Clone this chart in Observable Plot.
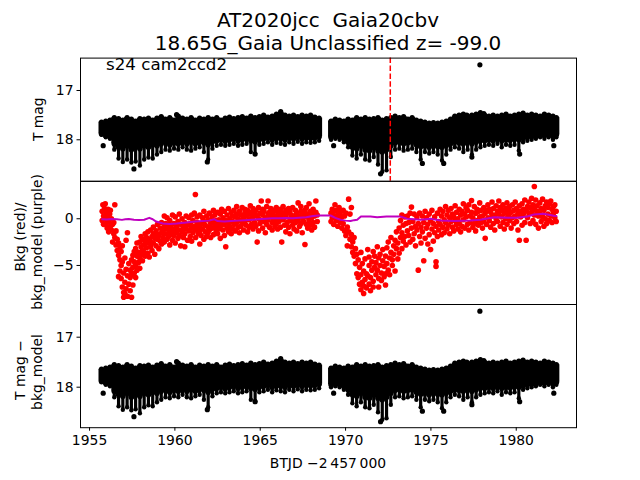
<!DOCTYPE html>
<html><head><meta charset="utf-8">
<script src="https://cdn.jsdelivr.net/npm/d3@7"></script>
<script src="https://cdn.jsdelivr.net/npm/@observablehq/plot@0.6"></script>
<style>
html,body{margin:0;padding:0;background:#fff;}
#chart{position:relative;width:640px;height:480px;overflow:hidden;font-family:"DejaVu Sans",sans-serif;}
#chart svg{position:absolute;left:0;top:0;}
</style></head><body><div id="chart"></div><script>
// ---- data ----
const titleLines = ["AT2020jcc  Gaia20cbv", "18.65G_Gaia Unclassified z= -99.0"];
const sectorLabel = "s24 cam2ccd2";
const xTicks = [1955, 1960, 1965, 1970, 1975, 1980];
const magTicks = [17, 18];
const bkgTicks = [0, -5];
const discoveryDay = [1972.62];

// T mag per time bin: [day, bright edge, edge of dense core, faintest point]
const tmagBand1 = [
[1955.70,17.64,17.88,17.90],[1955.95,17.62,17.92,17.95],[1956.20,17.60,17.95,17.98],[1956.45,17.55,18.08,18.20],[1956.70,17.57,18.15,18.38],[1956.95,17.60,18.18,18.45],[1957.20,17.55,18.12,18.40],[1957.45,17.58,18.20,18.46],[1957.70,17.62,18.15,18.44],[1957.95,17.57,18.18,18.52],[1958.20,17.58,18.12,18.40],[1958.45,17.56,18.15,18.36],[1958.70,17.60,18.10,18.38],[1958.95,17.56,18.12,18.30],[1959.20,17.53,18.08,18.25],[1959.45,17.58,18.05,18.20],[1959.70,17.55,18.10,18.22],[1959.95,17.60,18.06,18.18],[1960.20,17.52,18.08,18.20],[1960.45,17.56,18.04,18.15],[1960.70,17.58,18.08,18.20],[1960.95,17.55,18.05,18.22],[1961.20,17.60,18.08,18.18],[1961.45,17.56,18.04,18.15],[1961.70,17.58,18.06,18.25],[1961.95,17.55,18.10,18.40],[1962.20,17.58,18.04,18.18],[1962.45,17.55,18.02,18.12],[1962.70,17.60,18.00,18.10],[1962.95,17.56,18.03,18.12],[1963.20,17.54,18.00,18.10],[1963.45,17.57,17.98,18.08],[1963.70,17.55,18.02,18.12],[1963.95,17.53,18.00,18.10],[1964.20,17.56,17.98,18.08],[1964.45,17.52,18.02,18.25],[1964.70,17.55,18.04,18.28],[1964.95,17.53,18.00,18.10],[1965.20,17.50,17.98,18.08],[1965.45,17.54,17.96,18.05],[1965.70,17.52,18.00,18.10],[1965.95,17.48,17.97,18.06],[1966.20,17.45,17.98,18.08],[1966.45,17.50,18.00,18.10],[1966.70,17.52,17.96,18.05],[1966.95,17.50,17.98,18.08],[1967.20,17.53,17.95,18.04],[1967.45,17.50,17.98,18.08],[1967.70,17.52,17.96,18.05],[1967.95,17.50,17.97,18.06],[1968.20,17.54,17.96,18.05],[1968.45,17.56,17.94,18.02]
];
const tmagBand2 = [
[1969.15,17.62,17.95,18.00],[1969.40,17.58,17.93,17.98],[1969.65,17.60,17.95,18.00],[1969.90,17.62,17.98,18.05],[1970.15,17.58,18.05,18.15],[1970.40,17.60,18.15,18.32],[1970.65,17.55,18.18,18.38],[1970.90,17.58,18.12,18.30],[1971.15,17.55,18.20,18.40],[1971.40,17.58,18.22,18.42],[1971.65,17.57,18.15,18.35],[1971.90,17.55,18.22,18.50],[1972.15,17.60,18.25,18.65],[1972.40,17.57,18.20,18.62],[1972.65,17.55,18.12,18.35],[1972.90,17.52,18.06,18.20],[1973.15,17.55,18.05,18.18],[1973.40,17.53,18.08,18.22],[1973.65,17.58,18.06,18.20],[1973.90,17.55,18.05,18.18],[1974.15,17.60,18.10,18.25],[1974.40,17.62,18.14,18.40],[1974.65,17.64,18.12,18.25],[1974.90,17.66,18.15,18.28],[1975.15,17.65,18.12,18.25],[1975.40,17.66,18.14,18.30],[1975.65,17.64,18.15,18.42],[1975.90,17.62,18.12,18.30],[1976.15,17.58,18.08,18.20],[1976.40,17.52,18.05,18.15],[1976.65,17.50,18.06,18.18],[1976.90,17.48,18.08,18.25],[1977.15,17.52,18.05,18.20],[1977.40,17.50,18.08,18.30],[1977.65,17.48,18.05,18.20],[1977.90,17.45,18.02,18.15],[1978.15,17.50,18.02,18.12],[1978.40,17.52,18.00,18.10],[1978.65,17.50,18.02,18.12],[1978.90,17.52,17.98,18.08],[1979.15,17.50,18.02,18.15],[1979.40,17.48,18.00,18.10],[1979.65,17.52,18.01,18.12],[1979.90,17.50,17.99,18.10],[1980.15,17.48,18.00,18.22],[1980.40,17.46,17.97,18.05],[1980.65,17.50,17.95,18.02],[1980.90,17.48,17.94,18.00],[1981.15,17.50,17.93,17.98],[1981.40,17.52,17.90,17.95],[1981.65,17.48,17.92,17.98],[1981.90,17.50,17.90,17.95],[1982.15,17.52,17.93,18.00],[1982.35,17.55,17.90,17.95]
];
// isolated T mag points: [day, mag]
const tmagOutliers = [[1955.8,18.12],[1957.6,18.59],[1960.1,17.49],[1961.9,18.45],[1964.7,18.29],[1966.2,17.43],[1969.3,18.12],[1972.05,18.69],[1974.5,18.48],[1975.75,18.48],[1977.1,17.5],[1977.4,18.35],[1977.87,16.48],[1978.1,17.47],[1980.2,18.29],[1982.2,18.12]];

// background flux points: [day, value, value, ...]
const bkgSeg1 = [
[1955.74,0.8,-0.2],[1955.78,1.5],[1955.82,0.3,-0.6],[1955.88,1.1],[1955.92,0.0,1.6],[1955.98,-0.5,0.6],[1956.03,0.2,-1.0],[1956.08,1.0],[1956.12,-0.3,-1.4],[1956.18,0.5],[1956.22,-0.8,0.9],[1956.28,0.0,-1.2],[1956.35,-0.6,-2.5],[1956.42,-1.6,-0.4],[1956.48,-2.0,1.5],[1956.55,-1.3,-2.8],[1956.62,-2.2,-3.4],[1956.70,-2.6,-3.9,-6.2],[1956.78,-3.0,-4.4,-5.6],[1956.85,-3.5,-5.0,-6.4],[1956.92,-2.9,-4.6,-7.3],[1957.00,-5.8,-7.9,-8.4],[1957.07,-4.2,-6.8,-8.0],[1957.14,-2.3,-5.4,-7.5],[1957.22,-1.5,-6.1,-8.3],[1957.30,-4.8,-7.0],[1957.38,-5.5,-7.7,-6.3],[1957.46,-4.4,-8.4,-6.0],[1957.54,-3.9,-5.2,-7.1],[1957.62,-4.6,-5.8,-3.5],[1957.70,-3.2,-5.0,-6.3],[1957.78,-4.0,-2.6,-5.5],[1957.86,-3.6,-4.7],[1957.94,-2.5,-4.2,-5.3],[1958.02,-3.0,-3.9,-1.9],[1958.10,-2.2,-4.5,-3.4],[1958.18,-2.8,-3.6],[1958.26,-1.6,-4.0,-2.4],[1958.34,-3.1,-2.0],[1958.42,-1.4,-3.7,-2.6],[1958.50,-2.2,-4.1],[1958.58,-1.2,-3.0,-2.5],[1958.66,-1.9,-3.4],[1958.74,-0.9,-2.6,-1.6],[1958.82,-2.1,-3.8],[1958.90,-1.3,-2.9],[1958.98,-0.6,-2.2,-1.7],[1959.06,-1.8,-3.2],[1959.14,-1.0,-2.4],[1959.22,-0.4,-1.5,-2.7],[1959.30,-1.2,-2.0],[1959.38,0.3,-0.9,-2.5],[1959.46,-1.6,-0.5],[1959.54,-1.1,-2.2,0.1],[1959.62,-0.7,-1.9],[1959.70,-1.4,-0.2,-2.8],[1959.78,-0.9,-1.7],[1959.86,0.4,-1.3,-2.3],[1959.94,-0.5,-1.8],[1960.02,-1.1,0.2,-2.6],[1960.10,-0.8,-1.5],[1960.18,-0.3,-2.1],[1960.26,-1.2,0.5,-1.8],[1960.34,-0.6,-2.9],[1960.42,-1.4,0.0],[1960.50,-0.9,-2.0],[1960.58,-0.4,-1.6,-3.0],[1960.66,0.3,-1.1],[1960.74,-0.7,-2.3],[1960.82,-1.3,0.1],[1960.90,-0.5,-1.9],[1960.98,-1.0,0.4,-2.4],[1961.06,-0.2,-1.5],[1961.14,-0.8,0.6],[1961.20,2.6],[1961.22,-1.2,-2.0],[1961.30,-0.4,0.2],[1961.38,-1.6,-0.9],[1961.46,0.4,-1.3,-2.7],[1961.54,-0.6,-1.8],[1961.62,0.1,-1.1],[1961.70,-0.3,-2.2,0.8],[1961.78,-1.4,-0.7],[1961.86,0.3,-1.9],[1961.94,-0.9,-0.1,-1.5],[1962.02,0.6,-1.2],[1962.10,-0.5,-2.0],[1962.18,0.2,-1.0],[1962.26,-0.3,-1.7,0.9],[1962.34,-0.8,0.4],[1962.42,-1.3,-0.2],[1962.50,0.7,-1.6,-0.6],[1962.58,-0.1,-1.1],[1962.66,0.5,-0.8,-2.1],[1962.74,-0.4,1.0],[1962.82,-1.2,0.1],[1962.90,-0.6,0.8,-1.8],[1962.98,-3.0,-0.2],[1963.06,0.4,-1.0],[1963.14,-0.5,1.1,-1.4],[1963.22,0.0,-0.9],[1963.30,0.7,-1.6],[1963.38,-0.3,0.3,-1.1],[1963.46,0.9,-0.6],[1963.54,-1.3,0.2],[1963.62,0.5,-0.4,1.3],[1963.70,-0.9,0.0],[1963.78,0.8,-1.5],[1963.86,-0.2,0.4,-0.8],[1963.94,1.2,-0.5],[1964.02,0.1,-1.2],[1964.10,0.6,-0.3,1.0],[1964.18,-0.7,0.3],[1964.26,0.9,-1.4],[1964.34,-0.1,0.5,-0.9],[1964.42,1.4,0.0],[1964.50,-0.6,0.7],[1964.58,0.2,-1.1,1.1],[1964.66,-0.4,0.6],[1964.74,0.9,-0.8],[1964.82,-2.5,0.3],[1964.90,0.0,1.2,-1.3],[1964.98,0.6,-0.5],[1965.06,1.9,-0.2],[1965.14,0.4,-1.0,1.0],[1965.22,-0.3,0.8],[1965.30,0.1,-1.5],[1965.38,1.3,-0.6],[1965.46,0.5,-0.1,1.9],[1965.54,-0.9,0.7],[1965.62,0.2,1.1],[1965.70,-0.4,0.6,-1.2],[1965.78,0.9,-0.2],[1965.86,0.3,-0.8],[1965.94,1.2,-0.5,0.0],[1966.02,-1.1,0.7],[1966.10,0.4,-0.3],[1966.18,1.0,-0.9,0.2],[1966.26,-2.5,0.6],[1966.34,-0.1,1.3],[1966.42,0.5,-0.7],[1966.50,-1.4,0.2,0.9],[1966.58,-0.4,0.6],[1966.66,1.1,-0.9],[1966.74,0.0,0.8,-1.6],[1966.82,0.4,-0.2],[1966.90,-0.7,1.2],[1966.98,0.3,-1.1],[1967.06,0.9,-0.4,0.1],[1967.14,-1.3,0.6],[1967.22,1.7,-0.2],[1967.30,0.3,-0.8],[1967.38,-0.5,0.8,1.3],[1967.46,0.1,-1.5],[1967.54,0.6,-0.3],[1967.62,-2.75,0.9],[1967.70,-0.6,0.2,1.2],[1967.78,0.5,-1.0],[1967.86,-0.2,1.6],[1967.94,0.8,-0.7],[1968.02,0.1,-1.2,0.5],[1968.10,1.0,-0.4],[1968.18,-0.9,0.3],[1968.26,0.7,1.9],[1968.34,-0.3,0.4]
];
const bkgSeg2 = [
[1969.15,0.6,-0.3],[1969.22,1.0,0.1],[1969.30,-0.6,0.8],[1969.38,1.5,0.3],[1969.46,-0.2,0.9],[1969.54,0.4,-0.8],[1969.62,1.2,0.0],[1969.70,-0.4,0.7],[1969.78,0.2,-1.0],[1969.86,0.9,-0.5],[1969.94,-1.3,0.3],[1970.02,0.6,-1.8],[1970.10,-0.9,-2.9],[1970.18,2.1,-1.4],[1970.26,-2.2,0.5],[1970.34,1.2,-3.0,-1.7],[1970.42,-2.5,-3.6],[1970.50,-4.0,-2.0],[1970.58,-3.2,-4.8],[1970.66,-5.9,-3.8],[1970.74,-4.4,-6.3],[1970.82,-5.2,-7.0],[1970.90,-3.6,-6.0,-7.6],[1970.98,-4.8,-6.8],[1971.06,-5.6,-8.0,-7.2],[1971.14,-4.3,-6.5],[1971.22,-5.9,-7.4],[1971.30,-3.3,-6.1],[1971.38,-5.0,-7.0,-4.1],[1971.46,-6.3,-7.7],[1971.54,-4.6,-5.5],[1971.62,-3.5,-6.7,-7.3],[1971.70,-5.2,-4.0],[1971.78,-6.0,-4.7],[1971.86,-3.0,-5.5],[1971.94,-6.4,-4.2,-7.3],[1972.02,-5.0,-3.8],[1972.10,-5.8,-6.6],[1972.18,-4.5,-3.3],[1972.26,-6.2,-5.1],[1972.34,-4.0,-5.9,-7.1],[1972.42,-3.1,-4.8],[1972.50,-5.5,-2.5],[1972.58,-4.2,-6.0],[1972.66,-2.0,-3.6],[1972.74,-5.0,-4.4],[1972.82,-2.9,-3.8],[1972.90,-5.6,-2.3],[1972.98,-1.4,-3.2],[1973.06,-4.3,-2.6],[1973.14,-1.0,-3.7],[1973.22,-0.2,-2.0],[1973.30,0.4,-1.5,-3.2],[1973.38,-0.7,-2.4],[1973.46,-1.9,0.2],[1973.54,-0.5,-2.8],[1973.62,0.3,-1.3],[1973.70,-1.8,-0.4],[1973.78,-2.5,0.6],[1973.86,1.25,-1.0],[1973.94,-0.3,-2.2],[1974.02,0.5,-1.6],[1974.10,-0.8,-2.9],[1974.18,0.2,-1.2],[1974.26,-5.5,-0.5],[1974.34,-1.9,0.6],[1974.42,-0.9,-2.6],[1974.50,0.3,-1.4],[1974.58,-4.5,-0.4],[1974.66,-2.1,0.8],[1974.74,-1.0,0.1],[1974.82,-2.7,-0.6],[1974.90,0.5,-1.7],[1974.98,-0.2,-3.3],[1975.06,0.9,-1.1],[1975.14,-0.5,-2.4],[1975.22,0.2,-1.5],[1975.30,-5.1,-4.6,-0.8],[1975.38,0.6,-1.9],[1975.46,-0.3,-1.2],[1975.54,1.0,-0.6],[1975.62,-1.7,0.3],[1975.70,0.8,-0.9],[1975.78,-0.1,-1.5],[1975.86,1.3,-0.4],[1975.94,0.4,-1.1],[1976.02,-0.7,0.9],[1976.10,0.1,-1.6],[1976.18,1.1,-0.3],[1976.26,-0.9,0.5],[1976.34,0.2,-1.3],[1976.42,1.4,-0.2],[1976.50,-0.6,0.7],[1976.58,0.0,-1.1],[1976.66,1.0,-0.5],[1976.74,-1.4,0.4],[1976.82,0.8,-0.8],[1976.90,1.6,-0.1],[1976.98,-1.0,0.5],[1977.06,0.2,1.2],[1977.14,-0.6,0.9],[1977.22,1.5,-1.2],[1977.30,0.3,-0.4],[1977.38,1.96,0.7],[1977.46,-0.9,0.1],[1977.54,1.3,-0.5],[1977.62,0.6,-1.3],[1977.70,-0.2,1.0],[1977.78,0.8,-0.7],[1977.86,1.7,0.2],[1977.94,-0.4,0.9],[1978.02,0.3,-1.0],[1978.10,1.2,-0.3],[1978.18,-2.1,0.6],[1978.26,0.9,-0.6],[1978.34,1.5,0.1],[1978.42,-0.2,1.0],[1978.50,0.7,-0.9],[1978.58,1.8,0.3],[1978.66,-0.5,1.1],[1978.74,0.4,-1.2],[1978.82,1.4,0.0],[1978.90,-0.3,0.8],[1978.98,1.9,0.5],[1979.06,-0.8,1.2],[1979.14,0.2,0.9],[1979.22,1.5,-0.4],[1979.30,0.6,-1.1],[1979.38,1.1,0.0],[1979.46,-0.6,1.7],[1979.54,0.4,0.9],[1979.62,1.3,-0.2],[1979.70,-1.0,0.7],[1979.78,0.1,1.5],[1979.86,0.9,-0.5],[1979.94,1.8,0.3],[1980.02,-0.3,1.1],[1980.10,0.6,-1.2],[1980.18,-2.3,1.4],[1980.26,0.2,0.8],[1980.34,1.6,-0.7],[1980.42,0.5,1.0],[1980.50,-0.4,2.0],[1980.58,-2.3,0.9],[1980.66,1.3,0.1],[1980.74,0.6,1.8],[1980.82,-0.5,1.2],[1980.90,0.7,2.2],[1980.98,1.5,-0.2],[1981.06,3.46,0.4,1.0],[1981.14,2.0,-0.6],[1981.22,0.8,1.4],[1981.30,-1.0,0.3],[1981.38,1.7,0.6],[1981.46,-0.3,1.1],[1981.54,2.1,0.2],[1981.62,0.9,-0.8],[1981.70,1.4,0.0],[1981.78,-0.5,1.8],[1981.86,0.5,1.2],[1981.94,1.6,-0.2],[1982.02,0.3,1.9],[1982.10,1.0,-0.4],[1982.18,0.6,1.3],[1982.26,1.5,0.1],[1982.34,-0.3,0.8]
];
// background model (purple line): [day, value]
const bkgModel = [
[1955.74,-0.05],[1956.0,-0.08],[1956.3,-0.02],[1956.6,-0.05],[1956.9,-0.12],[1957.1,-0.05],[1957.3,-0.02],[1957.6,-0.1],[1957.9,-0.12],[1958.2,-0.1],[1958.5,0.1],[1958.7,-0.05],[1958.9,-0.3],[1959.3,-0.5],[1959.7,-0.55],[1960.1,-0.5],[1960.4,-0.45],[1960.8,-0.38],[1961.2,-0.3],[1961.6,-0.25],[1962.0,-0.2],[1962.3,-0.05],[1962.5,-0.25],[1962.9,-0.3],[1963.3,-0.25],[1963.7,-0.2],[1964.1,-0.15],[1964.5,-0.1],[1964.9,-0.05],[1965.3,0.0],[1965.7,0.05],[1966.1,0.05],[1966.5,0.08],[1966.9,0.05],[1967.3,0.1],[1967.7,0.15],[1968.1,0.3],[1968.45,0.35],
[1969.12,0.35],[1969.4,0.1],[1969.7,-0.1],[1970.0,-0.2],[1970.29,-0.25],[1970.5,-0.15],[1970.68,-0.1],[1970.9,0.25],[1971.46,0.25],[1971.85,0.17],[1972.4,0.25],[1973.2,0.25],[1973.6,0.0],[1974.0,-0.05],[1974.4,-0.1],[1974.98,0.0],[1975.56,-0.18],[1976.35,-0.25],[1977.3,-0.18],[1977.9,-0.1],[1978.7,0.17],[1979.5,0.1],[1980.06,0.1],[1980.65,0.25],[1981.04,0.46],[1981.6,0.53],[1982.2,0.32],[1982.35,0.3]
];

// ---- tables ----
const band = [...tmagBand1, ...tmagBand2].map(([t, top, core, bot]) => ({t, top, core, bot}));
const outl = tmagOutliers.map(([t, m]) => ({t, m}));
const bkg = [...bkgSeg1, ...bkgSeg2].flatMap(([t, ...vs]) => vs.map(v => ({t, v})));
const model = bkgModel.map(([t, v]) => ({t, v}));

const xDomain = [1954.47, 1983.53];
const base = {
  width: 640, height: 480, marginLeft: 80, marginRight: 64,
  style: {background: "transparent", fontFamily: "DejaVu Sans", fontSize: "13.9px", overflow: "visible", color: "black"}
};
const yAxisOpts = {tickSize: 3.5, tickPadding: 3.5, tickFormat: "d", label: null};

function magMarks() {
  return [
    Plot.ruleX(band, {x: "t", y1: "core", y2: "bot", stroke: "black", strokeWidth: 3.2}),
    Plot.ruleX(band, {x: "t", y1: "top", y2: "core", stroke: "black", strokeWidth: 6}),
    Plot.dot(band, {x: "t", y: "top", r: 2.6, fill: "black"}),
    Plot.dot(band, {x: "t", y: "core", r: 2.8, fill: "black"}),
    Plot.dot(band, {x: "t", y: "bot", r: 2.2, fill: "black"}),
    Plot.dot(outl, {x: "t", y: "m", r: 2.6, fill: "black"})
  ];
}

const p1 = Plot.plot({
  ...base, marginTop: 57.6, marginBottom: 480 - 180.8,
  x: {domain: xDomain, axis: null},
  y: {domain: [18.842, 16.343], ticks: magTicks, ...yAxisOpts},
  marks: [
    ...magMarks(),
    Plot.ruleX(discoveryDay, {stroke: "#ff0000", strokeWidth: 1.5, strokeDasharray: "5.5,2.4"}),
    Plot.frame({stroke: "black", strokeWidth: 1})
  ]
});
const p2 = Plot.plot({
  ...base, marginTop: 180.8, marginBottom: 480 - 304,
  x: {domain: xDomain, axis: null},
  y: {domain: [-9.18, 4.01], ticks: bkgTicks, ...yAxisOpts},
  marks: [
    Plot.dot(bkg, {x: "t", y: "v", r: 2.8, fill: "#ff0000"}),
    Plot.line(model, {x: "t", y: "v", stroke: "#bf00bf", strokeWidth: 2}),
    Plot.frame({stroke: "black", strokeWidth: 1})
  ]
});
const p3 = Plot.plot({
  ...base, marginTop: 304, marginBottom: 480 - 427.2,
  x: {domain: xDomain, ticks: xTicks, tickFormat: "d", tickSize: 3.5, tickPadding: 3.5, label: null},
  y: {domain: [18.81, 16.346], ticks: magTicks, ...yAxisOpts},
  marks: [
    ...magMarks(),
    Plot.frame({stroke: "black", strokeWidth: 1})
  ]
});

const chart = document.getElementById("chart");
chart.append(p1, p2, p3);

// ---- text overlay ----
const svg = d3.select(chart).append("svg").attr("width", 640).attr("height", 480)
  .style("font-family", "DejaVu Sans").style("pointer-events", "none");
svg.append("text").attr("x", 328).attr("y", 27).attr("text-anchor", "middle")
  .style("font-size", "20px").style("white-space", "pre").text(titleLines[0]);
svg.append("text").attr("x", 328).attr("y", 49.5).attr("text-anchor", "middle")
  .style("font-size", "20px").style("white-space", "pre").text(titleLines[1]);
svg.append("text").attr("x", 106).attr("y", 70).style("font-size", "16.7px").text(sectorLabel);

function yLabel(x, cy, txt) {
  svg.append("text").attr("transform", `translate(${x},${cy}) rotate(-90)`)
    .attr("text-anchor", "middle").style("font-size", "13.9px").style("white-space", "pre").text(txt);
}
yLabel(43, 119.2, "T mag");
yLabel(25, 237, "Bkg (red)/");
yLabel(41.7, 242, "bkg_model (purple)");
yLabel(25, 370, "T mag \u2212");
yLabel(41.7, 372, "bkg_model");
svg.append("text").attr("x", 328).attr("y", 467.5).attr("text-anchor", "middle")
  .style("font-size", "13.9px").text("BTJD \u22122\u2009457\u2009000");
</script></body></html>
